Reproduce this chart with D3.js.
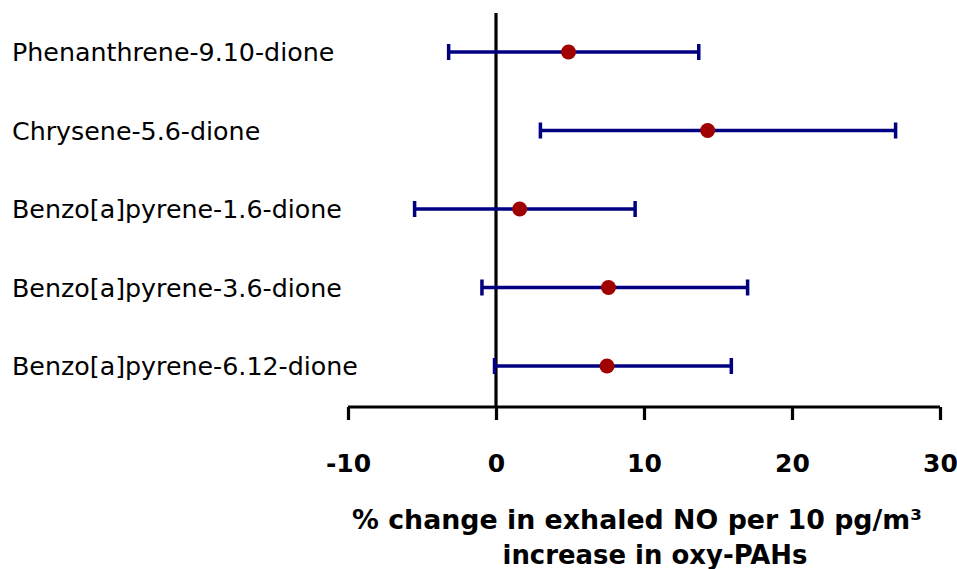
<!DOCTYPE html>
<html>
<head>
<meta charset="utf-8">
<script src="https://cdn.jsdelivr.net/npm/d3@7"></script>
<style>
  html, body { margin: 0; padding: 0; background: #fff; }
  svg { display: block; }
  text { font-family: "DejaVu Sans", "Open Sans", sans-serif; fill: #000; }
</style>
</head>
<body>
<svg id="chart" width="957" height="569"></svg>
<script>
// Oxy-PAH compounds, effect estimates and 95% confidence limits
const compounds = [
  "Phenanthrene-9.10-dione",
  "Chrysene-5.6-dione",
  "Benzo[a]pyrene-1.6-dione",
  "Benzo[a]pyrene-3.6-dione",
  "Benzo[a]pyrene-6.12-dione"
];
const estimates = [4.9, 14.3, 1.6, 7.6, 7.5];
const lowerCI   = [-3.2, 3.0, -5.5, -0.95, -0.1];
const upperCI   = [13.7, 27.0, 9.4, 17.0, 15.9];
const xTicks    = [-10, 0, 10, 20, 30];
const xTickLabels = ["-10", "0", "10", "20", "30"];
const titleLines = ["% change in exhaled NO per 10 pg/m\u00B3", "increase in oxy-PAHs"];

const svg = d3.select("#chart");

const x = d3.scaleLinear().domain([-10, 30]).range([348, 940]);
const y = d3.scalePoint().domain(compounds).range([52, 366]);

const navy = "#000080";
const red = "#A00000";

// Fit a text node to a target width by adjusting its font size
function fitWidth(sel, target) {
  sel.each(function () {
    const fs = parseFloat(this.getAttribute("font-size"));
    const w = this.getComputedTextLength();
    if (w > 0) this.setAttribute("font-size", (fs * target / w).toFixed(2));
  });
}

// Zero reference line
svg.append("line")
  .attr("x1", x(0)).attr("x2", x(0))
  .attr("y1", 13).attr("y2", 407)
  .attr("stroke", "#000").attr("stroke-width", 3.2);

// X axis
const axisG = svg.append("g").attr("transform", "translate(0,407)");
const axis = d3.axisBottom(x).tickValues(xTicks).tickSize(13)
  .tickFormat((d, i) => xTickLabels[i]);
axisG.call(axis);
axisG.select(".domain").attr("d", `M${x(-10)},0H${x(30)}`)
  .attr("stroke", "#000").attr("stroke-width", 3.2).attr("fill", "none");
axisG.selectAll(".tick line").attr("stroke", "#000").attr("stroke-width", 3.2);
axisG.selectAll(".tick text")
  .attr("y", 56).attr("dy", "0.35em")
  .attr("font-size", 25).attr("font-weight", "bold")
  .attr("font-family", "'DejaVu Sans', sans-serif")
  .attr("fill", "#000");

// Confidence interval bars
const rows = compounds.map((c, i) => ({ c, est: estimates[i], lo: lowerCI[i], hi: upperCI[i] }));
const g = svg.append("g");
g.selectAll("line.ci").data(rows).join("line")
  .attr("class", "ci")
  .attr("x1", d => x(d.lo)).attr("x2", d => x(d.hi))
  .attr("y1", d => y(d.c)).attr("y2", d => y(d.c))
  .attr("stroke", navy).attr("stroke-width", 3.5);
g.selectAll("line.capl").data(rows).join("line")
  .attr("x1", d => x(d.lo)).attr("x2", d => x(d.lo))
  .attr("y1", d => y(d.c) - 8).attr("y2", d => y(d.c) + 8)
  .attr("stroke", navy).attr("stroke-width", 3.5);
g.selectAll("line.caph").data(rows).join("line")
  .attr("x1", d => x(d.hi)).attr("x2", d => x(d.hi))
  .attr("y1", d => y(d.c) - 8).attr("y2", d => y(d.c) + 8)
  .attr("stroke", navy).attr("stroke-width", 3.5);

// Point estimates
g.selectAll("circle").data(rows).join("circle")
  .attr("cx", d => x(d.est)).attr("cy", d => y(d.c))
  .attr("r", 7.5).attr("fill", red);

// Compound labels
const labels = svg.append("g").selectAll("text").data(compounds).join("text")
  .attr("x", 12).attr("y", d => y(d)).attr("dy", "0.36em")
  .attr("font-size", 22).text(d => d);
// scale so the longest label spans its measured width
{
  const node = labels.filter(d => d === "Benzo[a]pyrene-6.12-dione").node();
  const w = node.getComputedTextLength();
  const fs = 22 * 346 / w;
  labels.attr("font-size", fs.toFixed(2));
}

// Axis title
svg.append("text").attr("x", 637).attr("y", 520).attr("dy", "0.35em")
  .attr("text-anchor", "middle").attr("font-weight", "bold").attr("font-size", 24)
  .text(titleLines[0]).call(fitWidth, 570);
svg.append("text").attr("x", 655).attr("y", 555).attr("dy", "0.35em")
  .attr("text-anchor", "middle").attr("font-weight", "bold").attr("font-size", 24)
  .text(titleLines[1]).call(fitWidth, 305);
</script>
</body>
</html>
